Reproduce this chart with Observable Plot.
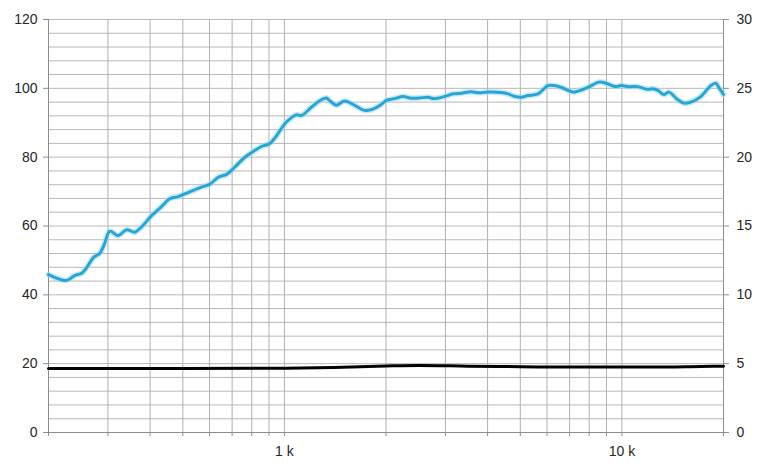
<!DOCTYPE html>
<html>
<head>
<meta charset="utf-8">
<script src="https://cdn.jsdelivr.net/npm/d3@7"></script>
<script src="https://cdn.jsdelivr.net/npm/@observablehq/plot@0.6"></script>
<style>
  html, body { margin: 0; padding: 0; background: #fff; }
</style>
</head>
<body>
<div id="chart"></div>
<script>
// Blue curve (left axis)
const blueFreq = [200, 226, 239, 251, 260, 272, 284, 293, 304, 321, 341, 360, 377, 404, 433, 457, 486, 520, 568, 600, 638, 674, 711, 762, 810, 855, 903, 934, 1014, 1085, 1123, 1202, 1269, 1331, 1359, 1425, 1505, 1600, 1724, 1809, 1936, 2004, 2116, 2250, 2375, 2508, 2667, 2778, 2975, 3162, 3340, 3575, 3750, 4014, 4385, 4599, 4791, 5026, 5271, 5643, 6040, 6291, 6598, 7161, 7410, 7933, 8551, 8967, 9598, 9931, 10418, 11152, 11935, 12348, 12780, 13312, 13775, 14643, 15253, 16000, 17128, 18335, 18970, 19364, 20000];
const blueVal = [45.9, 44.2, 45.6, 46.3, 48.0, 50.9, 52.1, 54.8, 58.5, 57.2, 58.9, 58.2, 59.7, 63.0, 65.7, 67.9, 68.6, 69.8, 71.3, 72.1, 74.2, 75.0, 77.0, 79.9, 81.7, 83.1, 83.9, 85.4, 90.2, 92.3, 92.1, 94.5, 96.3, 97.2, 96.5, 95.1, 96.3, 95.3, 93.6, 93.8, 95.3, 96.5, 97.0, 97.6, 97.1, 97.2, 97.4, 97.0, 97.6, 98.4, 98.6, 99.0, 98.7, 98.9, 98.8, 98.4, 97.7, 97.4, 97.9, 98.4, 100.8, 100.8, 100.3, 98.9, 99.2, 100.3, 101.8, 101.5, 100.5, 100.8, 100.5, 100.5, 99.7, 99.9, 99.4, 98.2, 98.9, 96.7, 95.7, 96.0, 97.6, 100.8, 101.5, 100.3, 98.2];

// Black curve (right axis units)
const blackFreq = [200, 500, 1000, 1400, 2000, 2500, 3500, 5000, 7000, 12000, 16000, 20000];
const blackVal = [4.65, 4.65, 4.67, 4.72, 4.83, 4.87, 4.82, 4.78, 4.75, 4.75, 4.78, 4.82];

// Axes
const leftTicks = [0, 20, 40, 60, 80, 100, 120];
const rightTicks = [0, 5, 10, 15, 20, 25, 30];
const xLabelFreqs = [1000, 10000];
const xLabelTexts = ["1 k", "10 k"];
const gridFreqs = [200, 300, 400, 500, 600, 700, 800, 900, 1000, 2000, 3000, 4000, 5000, 6000, 7000, 8000, 9000, 10000, 20000];
const hGrid = [0, 4, 8, 12, 16, 20, 24, 28, 32, 36, 40, 44, 48, 52, 56, 60, 64, 68, 72, 76, 80, 84, 88, 92, 96, 100, 104, 108, 112, 116, 120];

const blue = blueFreq.map((f, i) => ({f, v: blueVal[i]}));
const black = blackFreq.map((f, i) => ({f, v: blackVal[i]}));
const xLabels = xLabelFreqs.map((f, i) => ({f, t: xLabelTexts[i]}));
const rightScale = 120 / 30;

const chart = Plot.plot({
  width: 767,
  height: 462,
  marginLeft: 48,
  marginRight: 44,
  marginTop: 19,
  marginBottom: 30,
  style: {fontFamily: "'Liberation Sans', Arial, sans-serif", fontSize: "14px", color: "#262626", background: "#fff"},
  x: {type: "log", domain: [200, 20000]},
  y: {domain: [0, 120]},
  marks: [
    Plot.ruleY(hGrid, {stroke: "#b8b8b8", strokeWidth: 1}),
    Plot.ruleX(gridFreqs, {stroke: "#b0b0b0", strokeWidth: 1}),
    Plot.ruleX([200, 20000], {stroke: "#8c8c8c", strokeWidth: 1}),
    Plot.ruleY([0], {stroke: "#8c8c8c", strokeWidth: 1}),
    Plot.axisY({ticks: leftTicks, tickSize: 5, tickPadding: 6, label: null, stroke: "#8c8c8c"}),
    Plot.axisY({anchor: "right", ticks: rightTicks.map(t => t * rightScale), tickFormat: d => d / rightScale, tickSize: 5, tickPadding: 8, label: null, stroke: "#8c8c8c"}),
    Plot.axisX({ticks: gridFreqs, tickFormat: () => "", tickSize: 4, label: null, stroke: "#8c8c8c"}),
    Plot.text(xLabels, {x: "f", y: 0, text: "t", dy: 19, fontSize: 14, fill: "#262626", lineAnchor: "middle"}),
    Plot.line(black, {x: "f", y: d => d.v * rightScale, stroke: "#000", strokeWidth: 3, curve: "monotone-x"}),
    Plot.line(blue, {x: "f", y: "v", stroke: "#9fdcf3", strokeWidth: 6, strokeOpacity: 0.55, curve: "catmull-rom"}),
    Plot.line(blue, {x: "f", y: "v", stroke: "#29a5d5", strokeWidth: 3, curve: "catmull-rom"})
  ]
});
document.getElementById("chart").appendChild(chart);
</script>
</body>
</html>
